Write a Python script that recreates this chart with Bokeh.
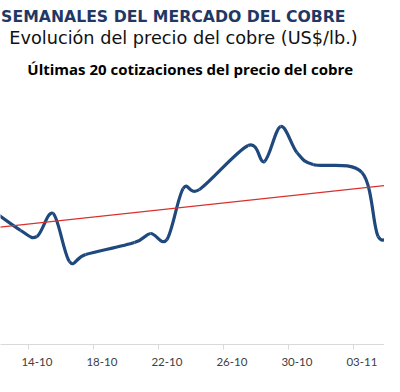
import numpy as np
import pandas as pd
from bokeh.plotting import figure
from bokeh.models import Range1d, FixedTicker, DatetimeTickFormatter, Label
from bokeh.embed import file_html
from bokeh.resources import INLINE

# ---- data ----
dates = ["2014-10-10", "2014-10-13", "2014-10-14", "2014-10-15", "2014-10-16",
         "2014-10-17", "2014-10-20", "2014-10-21", "2014-10-22", "2014-10-23",
         "2014-10-24", "2014-10-27", "2014-10-28", "2014-10-29", "2014-10-30",
         "2014-10-31", "2014-11-03", "2014-11-04", "2014-11-05", "2014-11-06"]
prices = [3.021, 2.986, 2.980, 3.003, 2.955,
          2.962, 2.974, 2.983, 2.977, 3.028,
          3.027, 3.071, 3.055, 3.090, 3.064,
          3.052, 3.044, 2.980, 2.986, 3.001]
# linear trend line (Excel trendline), values read at the first and last quote
trend_dates = ["2014-10-10", "2014-11-06"]
trend_values = [2.9864, 3.0338]
tick_dates = ["2014-10-14", "2014-10-18", "2014-10-22", "2014-10-26",
              "2014-10-30", "2014-11-03"]

header_text = "SEMANALES DEL MERCADO DEL COBRE"
subtitle_text = "Evolución del precio del cobre (US$/lb.)"
chart_title_text = "Últimas 20 cotizaciones del precio del cobre"

DAY = 86400000.0
def to_ms(ds):
    return pd.to_datetime(ds).values.astype("datetime64[ms]").astype("int64").astype(float)

# each quote sits in the middle of its day slot
x = to_ms(dates) + DAY / 2
y = np.array(prices, dtype=float)
tx = to_ms(trend_dates) + DAY / 2
tick_ms = to_ms(tick_dates)

W, H = 384, 376
FRAME_H = 344
PX_PER_DAY = 16.25
t0 = tick_ms[0]
x_start = t0 - (28.3 / PX_PER_DAY) * DAY
x_end = x_start + (W / PX_PER_DAY) * DAY

p = figure(width=W, height=H, output_backend="svg", toolbar_location=None,
           x_axis_type="datetime", y_axis_location=None,
           x_range=Range1d(x_start, x_end), y_range=Range1d(2.872, 3.216),
           min_border_left=0, min_border_right=0, min_border_top=0,
           min_border_bottom=H - FRAME_H)
p.outline_line_color = None
p.grid.visible = False
p.background_fill_color = "white"
p.border_fill_color = "white"

# smoothed line (Excel-like bezier smoothing through the data points)
n = len(x)
x0s, y0s, x1s, y1s, cx0, cy0, cx1, cy1 = [], [], [], [], [], [], [], []
for i in range(n - 1):
    a = i - 1 if i > 0 else i
    d = i + 2 if i + 2 < n else i + 1
    x0s.append(x[i]); y0s.append(y[i]); x1s.append(x[i + 1]); y1s.append(y[i + 1])
    cx0.append(x[i] + (x[i + 1] - x[a]) / 6.0)
    cy0.append(y[i] + (y[i + 1] - y[a]) / 6.0)
    cx1.append(x[i + 1] - (x[d] - x[i]) / 6.0)
    cy1.append(y[i + 1] - (y[d] - y[i]) / 6.0)
p.bezier(x0=x0s, y0=y0s, x1=x1s, y1=y1s, cx0=cx0, cy0=cy0, cx1=cx1, cy1=cy1,
         line_color="#1f497d", line_width=3.2)

# trend line
p.line(tx, trend_values, line_color="#d8302c", line_width=1.2)

# x axis
ax = p.xaxis[0]
ax.ticker = FixedTicker(ticks=list(tick_ms + DAY / 2), minor_ticks=list(tick_ms))
ax.formatter = DatetimeTickFormatter(days="%d-%m", months="%d-%m", hours="%d-%m",
                                     years="%d-%m", hourmin="%d-%m", minutes="%d-%m")
ax.axis_line_color = "#d9d9d9"
ax.axis_line_width = 1
ax.major_tick_out = 0
ax.major_tick_in = 0
ax.minor_tick_out = 5
ax.minor_tick_in = 0
ax.minor_tick_line_color = "#d9d9d9"
ax.major_label_text_font = "Lato"
ax.major_label_text_font_size = "11.5px"
ax.major_label_text_color = "#404040"
ax.major_label_standoff = 8

# texts
p.add_layout(Label(x=345, y=FRAME_H - 16, x_units="screen", y_units="screen",
                   text=header_text, text_align="right", text_baseline="alphabetic",
                   text_font="DejaVu Sans", text_font_style="bold",
                   text_font_size="15.7px", text_color="#1f3864"))
p.add_layout(Label(x=183, y=FRAME_H - 37, x_units="screen", y_units="screen",
                   text=subtitle_text, text_align="center", text_baseline="alphabetic",
                   text_font="DejaVu Sans", text_font_size="17.7px", text_color="#111111"))
p.add_layout(Label(x=189.7, y=FRAME_H - 68, x_units="screen", y_units="screen",
                   text=chart_title_text, text_align="center", text_baseline="alphabetic",
                   text_font="Open Sans", text_font_style="bold",
                   text_font_size="15px", text_color="#000000"))

open("out.html", "w").write(file_html(p, INLINE))
